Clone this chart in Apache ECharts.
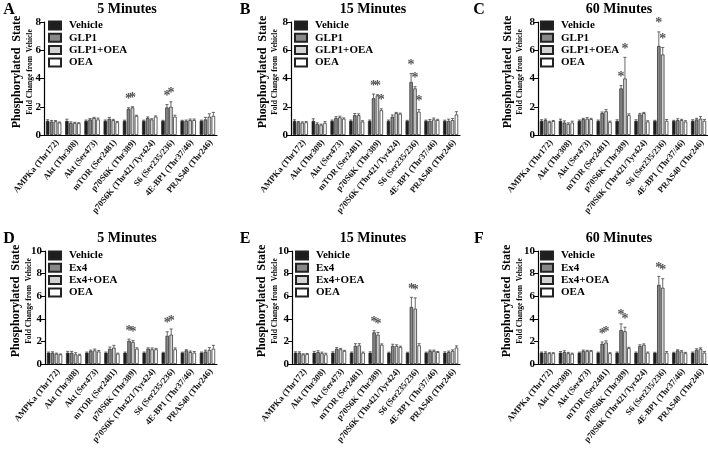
<!DOCTYPE html>
<html><head><meta charset="utf-8">
<script src="https://cdn.jsdelivr.net/npm/echarts@6/dist/echarts.min.js"></script>
<style>html,body{margin:0;padding:0;background:#fff}#c{width:708px;height:451px}</style>
</head><body><div id="c"></div>
<script>
const categories = ['AMPKa (Thr172)','Akt (Thr308)','Akt (Ser473)','mTOR (Ser2481)','p70S6K (Thr389)','p70S6K (Thr421/Tyr424)','S6 (Ser235/236)','4E-BP1 (Thr37/46)','PRAS40 (Thr246)'];
const namesTop = ['Vehicle','GLP1','GLP1+OEA','OEA'];
const namesBottom = ['Vehicle','Ex4','Ex4+OEA','OEA'];
const panelLetters = ['A','B','C','D','E','F'];
const panelTitles = ['5 Minutes','15 Minutes','60 Minutes','5 Minutes','15 Minutes','60 Minutes'];
const yMaxes = [8,8,8,10,10,10];
const yTicks = [2,2,2,2,2,2];

// values: [Vehicle, drug, drug+OEA, OEA]
const valuesA = [
  [1,1,1,1,1,1,1,1,1],
  [0.95,0.85,1.1,1.15,1.85,1.2,1.95,1.0,1.1],
  [0.97,0.85,1.2,1.05,1.95,1.1,2.0,1.05,1.3],
  [0.88,0.83,1.1,0.9,1.35,1.3,1.3,1.05,1.35]];
const errorsA = [
  [0.08,0.12,0.06,0.06,0.05,0.05,0.04,0.04,0.05],
  [0.08,0.08,0.06,0.1,0.08,0.08,0.2,0.06,0.15],
  [0.05,0.05,0.05,0.06,0.05,0.05,0.35,0.08,0.2],
  [0.04,0.04,0.1,0.06,0.05,0.05,0.1,0.08,0.25]];
const starsA = [[4,1],[4,2],[6,1],[6,2]];

const valuesB = [
  [1,1,1,1,1,1,1,1,1],
  [0.9,0.78,1.2,1.4,2.6,1.3,3.75,1.0,1.0],
  [0.88,0.72,1.25,1.4,2.8,1.55,3.3,1.1,1.05],
  [0.9,0.85,1.15,0.95,1.75,1.5,1.65,1.05,1.45]];
const errorsB = [
  [0.08,0.15,0.06,0.06,0.06,0.06,0.04,0.05,0.05],
  [0.06,0.08,0.1,0.12,0.3,0.12,0.6,0.1,0.12],
  [0.05,0.05,0.08,0.1,0.05,0.05,0.12,0.1,0.12],
  [0.06,0.1,0.06,0.06,0.1,0.05,0.15,0.06,0.2]];
const starsB = [[4,1],[4,2],[4,3],[6,1],[6,2],[6,3]];

const valuesC = [
  [1,1,1,1,1,1,1,1,1],
  [1.05,0.88,1.12,1.55,3.3,1.45,6.3,1.05,1.1],
  [0.92,0.78,1.15,1.68,4.0,1.55,5.7,1.05,1.15],
  [0.98,0.88,1.12,0.92,1.4,0.95,1.0,0.95,1.0]];
const errorsC = [
  [0.08,0.12,0.06,0.06,0.08,0.08,0.04,0.04,0.08],
  [0.08,0.12,0.06,0.08,0.2,0.08,1.0,0.1,0.08],
  [0.05,0.08,0.08,0.12,1.5,0.05,0.5,0.06,0.15],
  [0.05,0.1,0.06,0.06,0.1,0.06,0.1,0.06,0.1]];
const starsC = [[4,1],[4,2],[6,1],[6,2]];

const valuesD = [
  [1,1,1,1,1,1,1,1,1],
  [1.0,1.0,1.15,1.35,2.05,1.35,2.5,1.2,1.1],
  [0.9,0.85,1.2,1.45,1.95,1.3,2.6,1.05,1.25],
  [0.85,0.8,1.1,0.9,1.35,1.3,1.3,1.0,1.35]];
const errorsD = [
  [0.06,0.12,0.06,0.06,0.06,0.06,0.04,0.05,0.06],
  [0.08,0.12,0.08,0.15,0.15,0.08,0.35,0.06,0.12],
  [0.06,0.15,0.12,0.2,0.12,0.12,0.5,0.1,0.2],
  [0.04,0.06,0.1,0.06,0.08,0.08,0.12,0.1,0.3]];
const starsD = [[4,1],[4,2],[6,1],[6,2]];

const valuesE = [
  [1,1,1,1,1,1,1,1,1],
  [1.0,1.05,1.35,1.6,2.8,1.6,5.05,1.15,1.05],
  [0.85,0.95,1.3,1.65,2.6,1.6,4.9,1.15,1.15],
  [0.88,0.85,1.15,1.0,1.7,1.5,1.65,1.05,1.45]];
const errorsE = [
  [0.08,0.12,0.08,0.06,0.08,0.05,0.04,0.05,0.08],
  [0.08,0.12,0.1,0.2,0.15,0.15,0.85,0.08,0.1],
  [0.05,0.1,0.08,0.15,0.2,0.1,0.95,0.08,0.1],
  [0.05,0.1,0.06,0.06,0.08,0.08,0.15,0.06,0.15]];
const starsE = [[4,1],[4,2],[6,1],[6,2]];

const valuesF = [
  [1,1,1,1,1,1,1,1,1],
  [1.0,1.05,1.15,1.8,3.0,1.6,7.0,1.2,1.25],
  [0.95,0.95,1.15,1.9,2.9,1.7,6.75,1.1,1.35],
  [0.95,0.9,1.15,0.95,1.4,1.0,1.0,0.95,1.0]];
const errorsF = [
  [0.06,0.1,0.05,0.05,0.06,0.06,0.04,0.04,0.06],
  [0.08,0.12,0.08,0.15,0.55,0.1,0.75,0.06,0.1],
  [0.05,0.08,0.06,0.15,0.35,0.08,0.8,0.08,0.08],
  [0.05,0.06,0.05,0.05,0.08,0.06,0.1,0.08,0.1]];
const starsF = [[3,1],[3,2],[4,1],[4,2],[6,1],[6,2]];

const allValues = [valuesA,valuesB,valuesC,valuesD,valuesE,valuesF];
const allErrors = [errorsA,errorsB,errorsC,errorsD,errorsE,errorsF];
const allStars = [starsA,starsB,starsC,starsD,starsE,starsF];

// layout
const grids = [
  {left:44, top:22, width:173, height:113},
  {left:291, top:22, width:169, height:113},
  {left:538, top:22, width:170, height:113},
  {left:45, top:251, width:172, height:113},
  {left:292, top:251, width:168, height:113},
  {left:538, top:251, width:170, height:113}];
const legendPos = [{left:48,top:20},{left:294,top:20},{left:540,top:20},{left:48,top:250},{left:295,top:250},{left:540,top:250}];
const titlePos = [[127,9],[373,9],[619,9],[127,238],[373,238],[619,238]];
const letterPos = [[9,10],[245,10],[479,10],[9,239],[245,239],[479,239]];
const yNamePos = [[17,30,72],[263,275,72],[508,520,72],[16,29,301],[262,275,301],[507,520,301]];

const SERIF = '"Liberation Serif","Times New Roman",serif';
const fills = ['#1e1e1e','#888888','#d2d2d2','#ffffff'];
const STAR = '#555555';
const CG = 0.2, BG = 0.15;

const option = {
  animation:false,
  backgroundColor:'#fff',
  grid:[], xAxis:[], yAxis:[], series:[], legend:[], graphic:[]
};

for (let p=0;p<6;p++){
  const g = grids[p];
  option.grid.push(Object.assign({outerBoundsMode:'none', containLabel:false}, g));
  option.xAxis.push({
    type:'category', gridIndex:p, data:categories,
    axisLine:{lineStyle:{color:'#000',width:1.2}},
    axisTick:{alignWithLabel:true,length:3,lineStyle:{color:'#000'}},
    axisLabel:{interval:0,rotate:50,fontFamily:SERIF,fontWeight:'bold',fontSize:8.6,color:'#111',margin:3,
      align:'right',verticalAlign:'top',lineHeight:10}
  });
  option.yAxis.push({
    type:'value', gridIndex:p, min:0, max:yMaxes[p], interval:yTicks[p],
    axisLine:{show:true,lineStyle:{color:'#000',width:1.2}},
    axisTick:{show:true,length:4,lineStyle:{color:'#000'}},
    splitLine:{show:false},
    axisLabel:{fontFamily:SERIF,fontWeight:'bold',fontSize:11,color:'#000',margin:3}
  });
  const names = p<3 ? namesTop : namesBottom;
  const vals = allValues[p], errs = allErrors[p], stars = allStars[p];
  for (let s=0;s<4;s++){
    option.series.push({
      type:'bar', name:names[s], xAxisIndex:p, yAxisIndex:p, data:vals[s],
      barGap:(BG*100)+'%', barCategoryGap:(CG*100)+'%',
      itemStyle:{color:fills[s], borderColor:'#222', borderWidth:0.7}
    });
  }
  const edata = [];
  for (let s=0;s<4;s++) for (let c=0;c<9;c++){
    const st = stars.some(q=>q[0]===c&&q[1]===s) ? 1 : 0;
    edata.push([c, vals[s][c]+errs[s][c], s, vals[s][c], st]);
  }
  option.series.push({
    type:'custom', xAxisIndex:p, yAxisIndex:p, silent:true, z:5,
    color:STAR, itemStyle:{color:STAR},
    encode:{x:0,y:1}, data:edata,
    renderItem:function(params, api){
      const c = api.value(0), top = api.value(1), s = api.value(2), v = api.value(3), st = api.value(4);
      const band = api.size([1,0])[0];
      const n = 4;
      const w = band*(1-CG)/(n+(n-1)*BG);
      const sum = n*w*(1+BG) - w*BG;
      const cen = api.coord([c,0])[0];
      const x = cen - sum/2 + s*w*(1+BG) + w/2;
      const yTop = api.coord([c,top])[1];
      const yBar = api.coord([c,v])[1];
      const ch = w*0.45;
      const children = [
        {type:'line', shape:{x1:x,y1:yBar,x2:x,y2:yTop}, style:{stroke:'#444',lineWidth:0.8}},
        {type:'line', shape:{x1:x-ch,y1:yTop,x2:x+ch,y2:yTop}, style:{stroke:'#444',lineWidth:0.8}}
      ];
      if (st) children.push({type:'text', x:x, y:yTop-1, style:{text:'*', fill:STAR, font:'bold 14px '+SERIF, align:'center', verticalAlign:'bottom'}});
      return {type:'group', children:children};
    }
  });
  option.legend.push({
    data:names, orient:'vertical', left:legendPos[p].left, top:legendPos[p].top,
    itemWidth:12, itemHeight:8, itemGap:1.3, icon:'rect', padding:0, selectedMode:false,
    textStyle:{fontFamily:SERIF,fontWeight:'bold',fontSize:11,color:'#000',lineHeight:9,padding:[0,0,0,3]}
  });
  option.graphic.push(
    {type:'text', x:titlePos[p][0], y:titlePos[p][1], style:{text:panelTitles[p], font:'bold 14px '+SERIF, fill:'#000', align:'center', verticalAlign:'middle'}},
    {type:'text', x:letterPos[p][0], y:letterPos[p][1], style:{text:panelLetters[p], font:'bold 16px '+SERIF, fill:'#000', align:'center', verticalAlign:'middle'}},
    {type:'text', x:yNamePos[p][0], y:yNamePos[p][2], rotation:Math.PI/2, style:{text:'Phosphorylated  State', font:'bold 12px '+SERIF, fill:'#000', align:'center', verticalAlign:'middle'}},
    {type:'text', x:yNamePos[p][1], y:yNamePos[p][2], rotation:Math.PI/2, style:{text:'Fold Change from  Vehicle', font:'bold 7.5px '+SERIF, fill:'#000', align:'center', verticalAlign:'middle'}}
  );
}

const chart = echarts.init(document.getElementById('c'), null, {renderer:'canvas'});
chart.setOption(option);
</script>
</body></html>
